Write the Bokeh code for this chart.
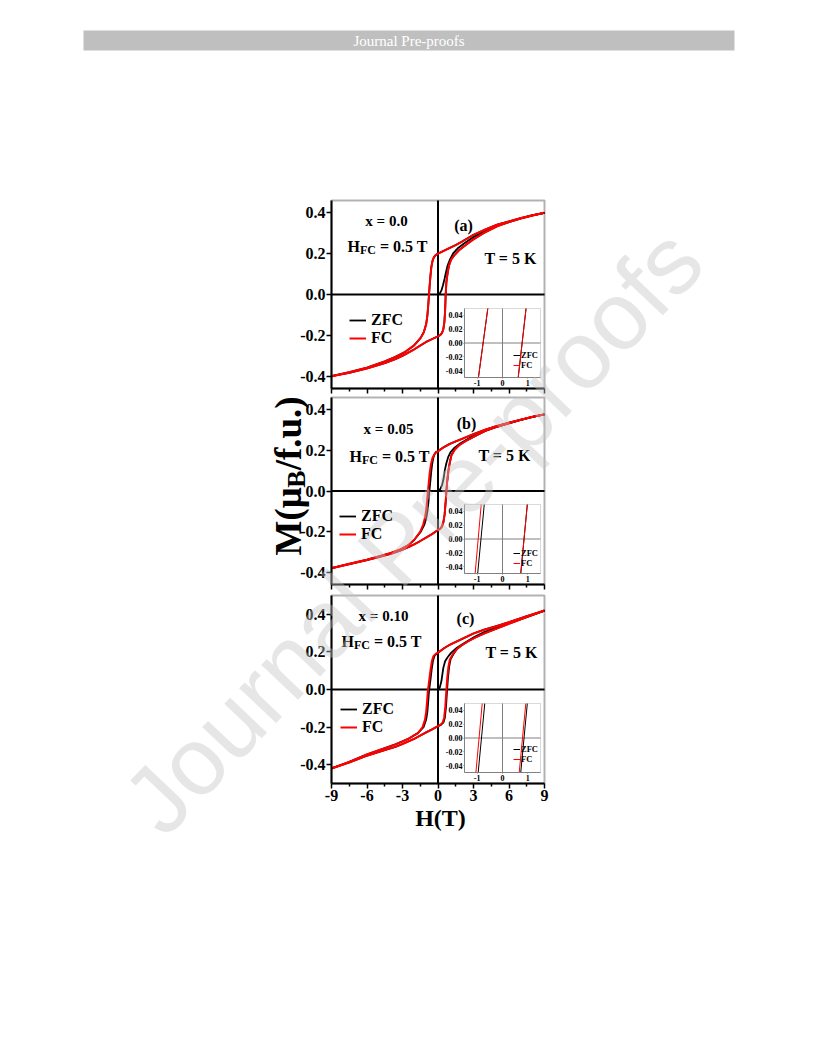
import math
from bokeh.plotting import figure
from bokeh.models import (Range1d, LinearAxis, FixedTicker, PrintfTickFormatter,
                          CustomJSTickFormatter, BoxAnnotation, Legend, LegendItem)
from bokeh.core.properties import value
from bokeh.embed import file_html
from bokeh.resources import INLINE

# ---------------------------------------------------------------- data
compositions = ["x = 0.0", "x = 0.05", "x = 0.10"]
panel_tags = ["(a)", "(b)", "(c)"]
hfc_symbol, hfc_sub, hfc_value = "H", "FC", "= 0.5 T"
temperature = "T = 5 K"
series_names = ["ZFC", "FC"]
x_label = "H(T)"
y_label_parts = ["M(\u03bc", "B", "/f.u.)"]
header_text = "Journal Pre-proofs"

h_ticks = [-9, -6, -3, 0, 3, 6, 9]
h_minor = [-7.5, -4.5, -1.5, 1.5, 4.5, 7.5]
m_ticks = [-0.4, -0.2, 0.0, 0.2, 0.4]
inset_h_ticks = [-1, 0, 1]
inset_m_ticks = [-0.04, -0.02, 0.0, 0.02, 0.04]
inset_M = [-0.05, 0.05]

# panel (a)  x = 0.0
a_fc_dn_H = [9, 8, 7, 6, 5, 4, 3, 2, 1.5, 1, 0.5, 0, -0.2, -0.34, -0.46, -0.56, -0.64, -0.71, -0.76, -0.82,
             -0.9, -1.0, -1.2, -1.5, -2.0, -2.8, -3.6, -4.5, -6, -7.5, -9]
a_fc_dn_M = [0.400, 0.388, 0.374, 0.358, 0.342, 0.318, 0.292, 0.258, 0.242, 0.228, 0.214, 0.200, 0.193, 0.183,
             0.165, 0.135, 0.09, 0.04, 0.0, -0.05, -0.105, -0.145, -0.185, -0.215, -0.248, -0.282, -0.305,
             -0.327, -0.358, -0.380, -0.400]
a_fc_up_H = [-9, -7.5, -6, -4.5, -3.6, -2.8, -2.0, -1.5, -1.0, -0.5, 0, 0.2, 0.34, 0.45, 0.54, 0.6, 0.65, 0.71,
             0.8, 0.92, 1.1, 1.35, 1.8, 2.4, 3.0, 3.9, 5, 6, 7, 8, 9]
a_fc_up_M = [-0.400, -0.383, -0.362, -0.336, -0.316, -0.294, -0.268, -0.250, -0.232, -0.218, -0.205, -0.198,
             -0.188, -0.170, -0.135, -0.08, 0.0, 0.06, 0.10, 0.14, 0.17, 0.19, 0.218, 0.245, 0.270, 0.302,
             0.334, 0.354, 0.372, 0.387, 0.400]
a_zfc_dn_H, a_zfc_dn_M = a_fc_dn_H, a_fc_dn_M      # ZFC loop coincides with FC loop for x = 0.0
a_zfc_up_H, a_zfc_up_M = a_fc_up_H, a_fc_up_M
a_zfc_vir_H = [0, 0.15, 0.29, 0.42, 0.55, 0.68, 0.8, 1.0, 1.3, 1.7, 2.2, 3.0, 4.0, 5, 6, 7, 8, 9]
a_zfc_vir_M = [0, 0.005, 0.02, 0.045, 0.076, 0.11, 0.14, 0.17, 0.203, 0.228, 0.25, 0.281, 0.312, 0.338,
               0.356, 0.373, 0.387, 0.400]
a_ins_fc_left_H, a_ins_fc_right_H = [-0.95, -0.58], [0.62, 0.93]
a_ins_zfc_left_H, a_ins_zfc_right_H = [-0.95, -0.58], [0.62, 0.93]

# panel (b)  x = 0.05
b_fc_dn_H = [9, 8, 7, 6, 5, 4, 3, 2, 1.5, 1, 0.5, 0, -0.2, -0.34, -0.48, -0.6, -0.7, -0.78, -0.85, -0.92,
             -1.0, -1.1, -1.25, -1.5, -2.0, -2.5, -3.2, -4, -5, -6, -7.5, -9]
b_fc_dn_M = [0.377, 0.365, 0.351, 0.336, 0.320, 0.302, 0.280, 0.256, 0.244, 0.232, 0.216, 0.195, 0.188,
             0.178, 0.160, 0.130, 0.09, 0.04, 0.0, -0.05, -0.095, -0.13, -0.165, -0.200, -0.240, -0.266,
             -0.288, -0.305, -0.322, -0.338, -0.358, -0.380]
b_fc_up_H = [-9, -7.5, -6, -5, -4, -3.2, -2.5, -2.0, -1.5, -1.0, -0.5, 0, 0.2, 0.34, 0.46, 0.56, 0.64, 0.71,
             0.78, 0.88, 1.0, 1.13, 1.4, 1.8, 2.4, 3.2, 4, 5, 6, 7, 8, 9]
b_fc_up_M = [-0.380, -0.360, -0.340, -0.325, -0.309, -0.293, -0.276, -0.262, -0.246, -0.229, -0.212, -0.192,
             -0.185, -0.174, -0.152, -0.115, -0.06, 0.0, 0.05, 0.10, 0.14, 0.175, 0.203, 0.226, 0.248, 0.272,
             0.296, 0.316, 0.333, 0.350, 0.365, 0.377]
b_zfc_dn_H = [9, 8, 7, 6, 5, 4, 3, 2, 1.5, 1, 0.5, 0, -0.2, -0.3, -0.4, -0.5, -0.58, -0.66, -0.73, -0.8,
              -0.88, -0.98, -1.15, -1.45, -2.0, -2.5, -3.2, -4, -5, -6, -7.5, -9]
b_zfc_dn_M = [0.377, 0.365, 0.351, 0.336, 0.320, 0.302, 0.280, 0.256, 0.244, 0.232, 0.216, 0.197, 0.19,
              0.18, 0.162, 0.13, 0.09, 0.04, 0.0, -0.05, -0.095, -0.13, -0.165, -0.200, -0.240, -0.266,
              -0.288, -0.305, -0.322, -0.338, -0.358, -0.380]
b_zfc_up_H, b_zfc_up_M = b_fc_up_H, b_fc_up_M
b_zfc_vir_H = [0, 0.2, 0.35, 0.47, 0.57, 0.7, 0.85, 1.05, 1.4, 1.9, 2.8, 3.9, 5, 6, 7, 8, 9]
b_zfc_vir_M = [0, 0.01, 0.03, 0.06, 0.10, 0.135, 0.165, 0.19, 0.213, 0.235, 0.265, 0.294, 0.318, 0.334,
               0.350, 0.365, 0.377]
b_ins_fc_left_H, b_ins_fc_right_H = [-1.08, -0.84], [0.72, 0.98]
b_ins_zfc_left_H, b_ins_zfc_right_H = [-0.98, -0.72], [0.72, 0.98]

# panel (c)  x = 0.10
c_fc_dn_H = [9, 7.5, 6, 5, 3.9, 3, 2, 1, 0.57, 0, -0.2, -0.4, -0.52, -0.62, -0.72, -0.8, -0.85, -0.92, -1.0,
             -1.1, -1.3, -1.7, -2.5, -3.0, -3.6, -4.5, -6, -7.5, -9]
c_fc_dn_M = [0.420, 0.390, 0.358, 0.338, 0.318, 0.298, 0.268, 0.238, 0.222, 0.196, 0.189, 0.176, 0.150,
             0.110, 0.060, 0.020, 0.0, -0.06, -0.12, -0.16, -0.200, -0.232, -0.262, -0.276, -0.292, -0.312,
             -0.345, -0.385, -0.420]
c_fc_up_H = [-9, -7.5, -6, -4.5, -3.6, -3.0, -2.0, -1.5, -1.0, -0.5, 0, 0.2, 0.4, 0.52, 0.62, 0.71, 0.78,
             0.88, 1.0, 1.27, 1.6, 2.0, 2.5, 3.1, 3.9, 5, 6, 7.5, 9]
c_fc_up_M = [-0.420, -0.388, -0.352, -0.322, -0.305, -0.290, -0.262, -0.245, -0.228, -0.212, -0.195, -0.188,
             -0.175, -0.150, -0.09, 0.0, 0.06, 0.12, 0.16, 0.190, 0.215, 0.235, 0.255, 0.275, 0.298, 0.325,
             0.350, 0.385, 0.420]
c_zfc_dn_H = [9, 7.5, 6, 5, 3.9, 3, 2, 1, 0.57, 0, -0.15, -0.32, -0.43, -0.53, -0.62, -0.7, -0.75, -0.82,
              -0.9, -1.0, -1.22, -1.7, -2.5, -3.0, -3.6, -4.5, -6, -7.5, -9]
c_zfc_dn_M = c_fc_dn_M
c_zfc_up_H = [-9, -7.5, -6, -4.5, -3.6, -3.0, -2.0, -1.5, -1.0, -0.5, 0, 0.25, 0.46, 0.58, 0.68, 0.77, 0.84,
              0.94, 1.06, 1.32, 1.6, 2.0, 2.5, 3.1, 3.9, 5, 6, 7.5, 9]
c_zfc_up_M = c_fc_up_M
c_zfc_vir_H = [0, 0.15, 0.29, 0.37, 0.45, 0.6, 0.8, 1.1, 1.6, 2.3, 3.1, 3.9, 5, 6, 7.5, 9]
c_zfc_vir_M = [0, 0.01, 0.045, 0.08, 0.115, 0.15, 0.17, 0.195, 0.222, 0.25, 0.28, 0.305, 0.33, 0.353,
               0.386, 0.420]
c_ins_fc_left_H, c_ins_fc_right_H = [-1.05, -0.80], [0.66, 0.92]
c_ins_zfc_left_H, c_ins_zfc_right_H = [-0.96, -0.70], [0.72, 0.98]

DATA = [
    dict(fc=[(a_fc_dn_H, a_fc_dn_M), (a_fc_up_H, a_fc_up_M)],
         zfc=[(a_zfc_dn_H, a_zfc_dn_M), (a_zfc_up_H, a_zfc_up_M)], vir=(a_zfc_vir_H, a_zfc_vir_M),
         ins_fc=[a_ins_fc_left_H, a_ins_fc_right_H], ins_zfc=[a_ins_zfc_left_H, a_ins_zfc_right_H]),
    dict(fc=[(b_fc_dn_H, b_fc_dn_M), (b_fc_up_H, b_fc_up_M)],
         zfc=[(b_zfc_dn_H, b_zfc_dn_M), (b_zfc_up_H, b_zfc_up_M)], vir=(b_zfc_vir_H, b_zfc_vir_M),
         ins_fc=[b_ins_fc_left_H, b_ins_fc_right_H], ins_zfc=[b_ins_zfc_left_H, b_ins_zfc_right_H]),
    dict(fc=[(c_fc_dn_H, c_fc_dn_M), (c_fc_up_H, c_fc_up_M)],
         zfc=[(c_zfc_dn_H, c_zfc_dn_M), (c_zfc_up_H, c_zfc_up_M)], vir=(c_zfc_vir_H, c_zfc_vir_M),
         ins_fc=[c_ins_fc_left_H, c_ins_fc_right_H], ins_zfc=[c_ins_zfc_left_H, c_ins_zfc_right_H]),
]

# ---------------------------------------------------------------- layout (page pixels)
LAYOUT = [
    dict(box=(331, 200, 544, 388), mlim=0.46, comp=(55, 20), hfc=(16, 40), tag=(132, 25), temp=(179, 58),
         leg=(349, 338), ileg=(513, 370)),
    dict(box=(331, 397, 544, 584), mlim=0.46, comp=(57, 31), hfc=(18, 53), tag=(135, 26), temp=(173, 58),
         leg=(339, 534), ileg=(513, 568)),
    dict(box=(331, 595, 544, 783), mlim=0.50, comp=(52, 20), hfc=(10, 40), tag=(134, 23), temp=(180, 57),
         leg=(340, 727), ileg=(513, 764)),
]

W, HGT = 816, 1056
SERIF = "Liberation Serif"
RED = "#ff0000"


def X(px):
    return px


def Y(py):
    return HGT - py


def xrange_for(lo, hi, p0, p1):
    c0, c1 = X(p0), X(p1)
    s = (hi - lo) / (c1 - c0)
    return Range1d(lo - c0 * s, hi + (W - c1) * s)


def yrange_for(lo, hi, top, bottom):
    c0, c1 = Y(bottom), Y(top)
    s = (hi - lo) / (c1 - c0)
    return Range1d(lo - c0 * s, hi + (HGT - c1) * s)


p = figure(width=W, height=HGT, x_range=Range1d(0, W), y_range=Range1d(0, HGT),
           x_axis_type=None, y_axis_type=None, toolbar_location=None, output_backend="svg",
           min_border=0, outline_line_color=None, background_fill_color="white",
           border_fill_color="white")


def ptext(x, y, s, size, align="left", baseline="alphabetic", angle=0.0, font=SERIF, style="bold",
          color="black", alpha=1.0, level="glyph"):
    p.text(x=[X(x)], y=[Y(y)], text=[s], text_font=value(font), text_font_style=style,
           text_font_size=f"{size}px", text_align=align, text_baseline=baseline, angle=angle,
           text_color=color, text_alpha=alpha, level=level)


# header bar
p.quad(left=[X(83)], right=[X(734)], top=[Y(30)], bottom=[Y(50)], fill_color="#bfbfbf", line_color=None)
ptext(408.5, 40.5, header_text, 15, align="center", baseline="middle", style="normal", color="white")

for i, (lay, d) in enumerate(zip(LAYOUT, DATA)):
    L, T, R, B = lay["box"]
    mlim = lay["mlim"]
    xr, yr = f"h{i}", f"m{i}"
    p.extra_x_ranges[xr] = xrange_for(-9, 9, L, R)
    p.extra_y_ranges[yr] = yrange_for(-mlim, mlim, T, B)
    kw = dict(x_range_name=xr, y_range_name=yr)

    # zero lines
    p.segment(x0=[0, -9], y0=[-mlim, 0], x1=[0, 9], y1=[mlim, 0], line_color="black", line_width=2, **kw)

    # curves
    for hx, my in d["zfc"]:
        p.line(hx, my, line_color="black", line_width=1.8, **kw)
    vir = p.line(d["vir"][0], d["vir"][1], line_color="black", line_width=1.8, **kw)
    fc_r = [p.line(hx, my, line_color=RED, line_width=2, **kw) for hx, my in d["fc"]]

    # axes + frame
    last = i == len(LAYOUT) - 1
    common = dict(x_range_name=xr, y_range_name=yr, axis_line_width=2, major_tick_line_width=1.5,
                  major_tick_in=0, major_tick_out=5, minor_tick_in=0, minor_tick_out=3,
                  minor_tick_line_width=1.5, major_label_text_font=SERIF,
                  major_label_text_font_style="bold", major_label_text_font_size="16px",
                  major_label_text_color="black")
    left = LinearAxis(fixed_location=-9, bounds=(-mlim, mlim), ticker=FixedTicker(ticks=m_ticks),
                      formatter=PrintfTickFormatter(format="%.1f"), major_label_standoff=1, **common)
    p.add_layout(left, "left")
    bottom = LinearAxis(fixed_location=-mlim, bounds=(-9, 9),
                        ticker=FixedTicker(ticks=h_ticks, minor_ticks=h_minor),
                        formatter=PrintfTickFormatter(format="%d") if last else CustomJSTickFormatter(code="return ''"),
                        major_label_standoff=1, **common)
    p.add_layout(bottom, "below")
    p.add_layout(BoxAnnotation(left=-9, right=9, bottom=-mlim, top=mlim, fill_color=None,
                               line_color="black", line_width=2, **kw))

    # main legend
    lx, ly = lay["leg"]
    p.add_layout(Legend(items=[LegendItem(label=series_names[0], renderers=[vir]),
                               LegendItem(label=series_names[1], renderers=[fc_r[0]])],
                        location=(X(lx), Y(ly + 9)), background_fill_alpha=0, border_line_color=None,
                        padding=0, margin=0, spacing=0, glyph_width=17, glyph_height=18, label_height=18,
                        label_standoff=5, label_text_font=SERIF, label_text_font_style="bold",
                        label_text_font_size="16px", label_text_color="black"))

    # annotations
    cx, cy = lay["comp"]
    ptext(L + cx, T + cy, compositions[i], 15, align="center", baseline="middle")
    hx0, hy = lay["hfc"]
    yb = T + hy + 5.5
    ptext(L + hx0, yb, hfc_symbol, 16)
    ptext(L + hx0 + 12.4, yb + 4, hfc_sub, 12)
    ptext(L + hx0 + 12.4 + 16 + 4, yb, hfc_value, 16)
    tx, ty = lay["tag"]
    ptext(L + tx, T + ty, panel_tags[i], 16, align="center", baseline="middle")
    kx, ky = lay["temp"]
    ptext(L + kx, T + ky, temperature, 16, align="center", baseline="middle")

    # inset
    IL, IR, IT, IB = 464, 540, B - 80, B - 11
    xi, yi = f"hi{i}", f"mi{i}"
    p.extra_x_ranges[xi] = xrange_for(-1.5, 1.5, IL, IR)
    p.extra_y_ranges[yi] = yrange_for(-0.05, 0.05, IT, IB)
    ikw = dict(x_range_name=xi, y_range_name=yi)
    p.segment(x0=[0, -1.5], y0=[-0.05, 0], x1=[0, 1.5], y1=[0.05, 0], line_color="#808080", line_width=1, **ikw)
    iz = [p.line(hx, inset_M, line_color="black", line_width=1, **ikw) for hx in d["ins_zfc"]]
    ifc = [p.line(hx, inset_M, line_color=RED, line_width=1, **ikw) for hx in d["ins_fc"]]
    icommon = dict(x_range_name=xi, y_range_name=yi, axis_line_color="#808080", axis_line_width=1,
                   major_tick_in=0, major_tick_out=1, major_tick_line_color="#808080",
                   minor_tick_line_color=None, major_label_standoff=1, major_label_text_font=SERIF,
                   major_label_text_font_style="bold", major_label_text_font_size="8px",
                   major_label_text_color="black")
    p.add_layout(LinearAxis(fixed_location=-1.5, bounds=(-0.05, 0.05), ticker=FixedTicker(ticks=inset_m_ticks),
                            formatter=PrintfTickFormatter(format="%.2f"), **icommon), "left")
    p.add_layout(LinearAxis(fixed_location=-0.05, bounds=(-1.5, 1.5), ticker=FixedTicker(ticks=inset_h_ticks),
                            formatter=PrintfTickFormatter(format="%d"), **icommon), "below")
    p.add_layout(BoxAnnotation(left=-1.5, right=1.5, bottom=-0.05, top=0.05, fill_color=None,
                               line_color="#808080", line_width=1, **ikw))
    ilx, ily = lay["ileg"]
    p.add_layout(Legend(items=[LegendItem(label=series_names[0], renderers=[iz[0]]),
                               LegendItem(label=series_names[1], renderers=[ifc[0]])],
                        location=(X(ilx), Y(ily)), background_fill_alpha=0, border_line_color=None,
                        padding=0, margin=0, spacing=0, glyph_width=7, glyph_height=10, label_height=10,
                        label_standoff=1, label_text_font=SERIF, label_text_font_style="bold",
                        label_text_font_size="8.5px", label_text_color="black"))

# axis titles
ptext(440, 817, x_label, 24, align="center", baseline="middle")
S, SB = 37, 26
ybase = 555
ptext(288, ybase, y_label_parts[0], S, angle=math.pi / 2)
ptext(296, ybase - 1.833 * S, y_label_parts[1], SB, angle=math.pi / 2)
ptext(288, ybase - 1.833 * S - 0.667 * SB, y_label_parts[2], S, angle=math.pi / 2)

# watermark
ptext(412, 530, header_text, 96, align="center", baseline="middle", angle=math.radians(46.5),
      font="Liberation Sans", style="normal", color="#c4c4c4", alpha=0.42, level="overlay")

open("out.html", "w").write(file_html(p, INLINE))
